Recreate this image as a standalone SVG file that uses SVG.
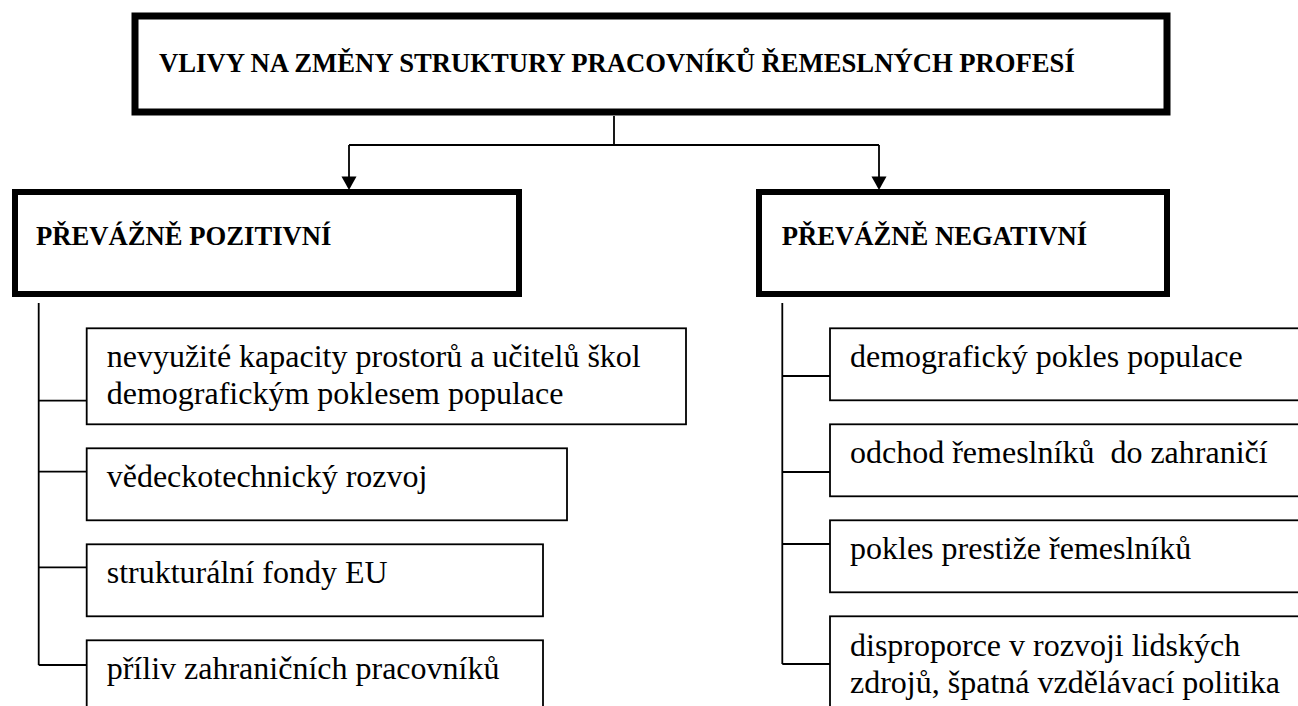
<svg xmlns="http://www.w3.org/2000/svg" width="1298" height="706" viewBox="0 0 1298 706">
  <style>
    .heavy { fill: #fff; stroke: #000; stroke-width: 7; }
    .mid { fill: #fff; stroke: #000; stroke-width: 6; }
    .item { fill: #fff; stroke: #000; stroke-width: 1.8; }
    .line { fill: none; stroke: #000; stroke-width: 1.8; }
    .hd { font-weight: bold; font-size: 26.67px; fill: #000; }
    .tx { font-size: 32px; fill: #000; }
  </style>
  <rect width="1298" height="706" fill="#fff"/>

  <!-- connectors -->
  <g id="connectors">
    <path class="line" d="M614,116 V145 M349,145 H879"/>
    <line class="line" x1="349" y1="145" x2="349" y2="177"/>
    <path d="M341.5,176.5 H356.5 L349,190 Z" fill="#000"/>
    <line class="line" x1="879" y1="145" x2="879" y2="177"/>
    <path d="M871.5,176.5 H886.5 L879,190 Z" fill="#000"/>
    <!-- left bracket -->
    <path class="line" d="M38.7,303 V665 M38.7,400.7 H86.7 M38.7,471.7 H86.7 M38.7,567.3 H86.7 M38.7,665 H86.7"/>
    <!-- right bracket -->
    <path class="line" d="M782.3,303 V664 M782.3,376 H830 M782.3,472 H830 M782.3,544 H830 M782.3,664 H830"/>
  </g>

  <g font-family="Liberation Serif, Times New Roman, DejaVu Serif, serif">
    <g id="root">
      <rect class="heavy" x="135" y="16" width="1032" height="96"/>
      <text class="hd" x="159" y="72">VLIVY NA ZMĚNY STRUKTURY PRACOVNÍKŮ ŘEMESLNÝCH PROFESÍ</text>
    </g>

    <g id="positive">
      <rect class="mid" x="15" y="192" width="504" height="102"/>
      <text class="hd" x="36" y="245">PŘEVÁŽNĚ POZITIVNÍ</text>
    </g>

    <g id="negative">
      <rect class="mid" x="759" y="192" width="408" height="102"/>
      <text class="hd" x="781.7" y="245">PŘEVÁŽNĚ NEGATIVNÍ</text>
    </g>

    <g id="pos-1">
      <rect class="item" x="86.7" y="328.3" width="599.3" height="96"/>
      <text class="tx" x="106.7" y="367">nevyužité kapacity prostorů a učitelů škol</text>
      <text class="tx" x="106.7" y="404">demografickým poklesem populace</text>
    </g>
    <g id="pos-2">
      <rect class="item" x="86.7" y="448.3" width="480.3" height="72"/>
      <text class="tx" x="106.7" y="487">vědeckotechnický rozvoj</text>
    </g>
    <g id="pos-3">
      <rect class="item" x="86.7" y="544.3" width="456.3" height="72"/>
      <text class="tx" x="106.7" y="583">strukturální fondy EU</text>
    </g>
    <g id="pos-4">
      <rect class="item" x="86.7" y="640.3" width="456.3" height="80"/>
      <text class="tx" x="106.7" y="679">příliv zahraničních pracovníků</text>
    </g>

    <g id="neg-1">
      <rect class="item" x="830" y="328.3" width="480" height="72"/>
      <text class="tx" x="850" y="367">demografický pokles populace</text>
    </g>
    <g id="neg-2">
      <rect class="item" x="830" y="424.3" width="480" height="72"/>
      <text class="tx" x="850" y="463" xml:space="preserve">odchod řemeslníků  do zahraničí</text>
    </g>
    <g id="neg-3">
      <rect class="item" x="830" y="520.3" width="480" height="72"/>
      <text class="tx" x="850" y="559">pokles prestiže řemeslníků</text>
    </g>
    <g id="neg-4">
      <rect class="item" x="830" y="616.3" width="480" height="100"/>
      <text class="tx" x="850" y="656">disproporce v rozvoji lidských</text>
      <text class="tx" x="850" y="693">zdrojů, špatná vzdělávací politika</text>
    </g>
  </g>
</svg>
